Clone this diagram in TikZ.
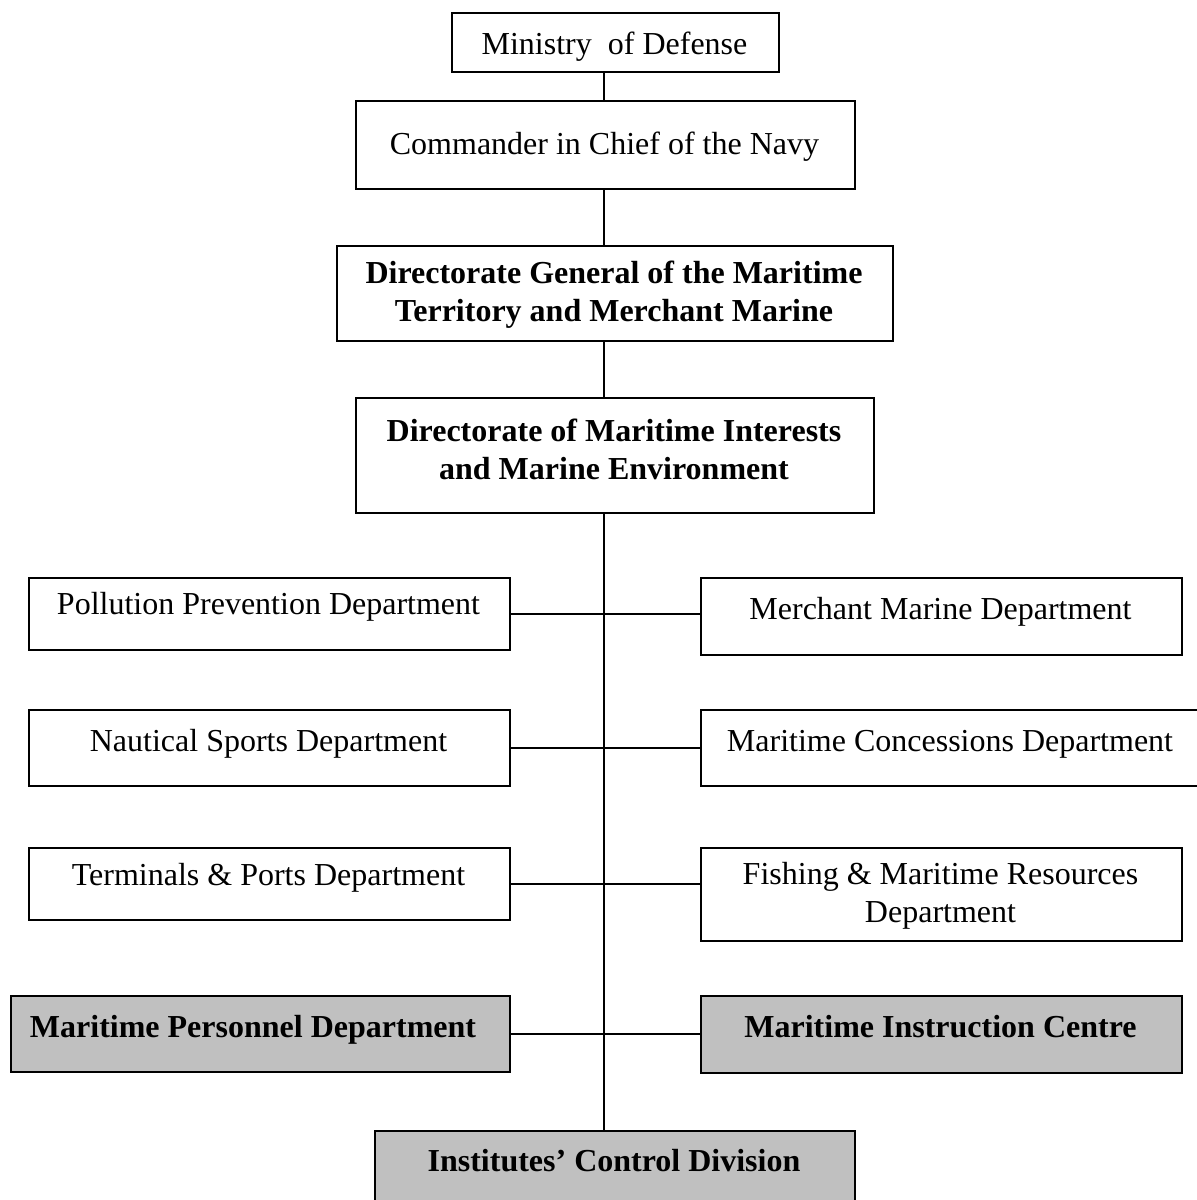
\documentclass[tikz,border=0pt]{standalone}
\usepackage{fontspec}
\setmainfont{Liberation Serif}
\definecolor{boxgray}{HTML}{C0C0C0}
\begin{document}
\begin{tikzpicture}[x=1pt,y=-1pt,
  box/.style={draw, line width=2pt, anchor=north west, inner sep=0pt},
  shaded/.style={box, fill=boxgray},
  lbl/.style={font=\fontsize{32}{38}\selectfont, align=center, inner sep=0pt, anchor=base},
  blbl/.style={lbl, font=\fontsize{32}{38}\selectfont\bfseries},
  link/.style={line width=2pt}]
  \useasboundingbox (0,0) rectangle (1197,1200);
  \clip (0,0) rectangle (1197,1200);

  % spine position
  \coordinate (spine) at (604,0);

  % top chain
  \node[box, minimum width=327pt, minimum height=59pt] (mod) at (451,12) {};
  \node[lbl] (modt) at (614.5,54) {Ministry\ \ of Defense};

  \node[box, minimum width=499pt, minimum height=88pt] (cmd) at (355,100) {};
  \node[lbl] (cmdt) at (604.5,154) {Commander in Chief of the Navy};

  \node[box, minimum width=556pt, minimum height=95pt] (dg) at (336,245) {};
  \node[blbl, anchor=center] (dgt) at (614,295) {Directorate General of the Maritime\\Territory and Merchant Marine};

  \node[box, minimum width=518pt, minimum height=115pt] (dmi) at (355,397) {};
  \node[blbl, anchor=center] (dmit) at (614,449) {Directorate of Maritime Interests\\and Marine Environment};

  % left column
  \node[box, minimum width=481pt, minimum height=72pt] (pp) at (28,577) {};
  \node[lbl] (ppt) at (268.5,614) {Pollution Prevention Department};

  \node[box, minimum width=481pt, minimum height=76pt] (ns) at (28,709) {};
  \node[lbl] (nst) at (268.5,751) {Nautical Sports Department};

  \node[box, minimum width=481pt, minimum height=72pt] (tp) at (28,847) {};
  \node[lbl] (tpt) at (268.5,885) {Terminals \& Ports Department};

  \node[shaded, minimum width=499pt, minimum height=76pt] (mp) at (10,995) {};
  \node[blbl] (mpt) at (253,1037) {Maritime Personnel Department};

  % right column
  \node[box, minimum width=481pt, minimum height=77pt] (mm) at (700,577) {};
  \node[lbl] (mmt) at (940.5,619) {Merchant Marine Department};

  \node[box, minimum width=502pt, minimum height=76pt] (mc) at (700,709) {};
  \node[lbl] (mct) at (950,751) {Maritime Concessions Department};

  \node[box, minimum width=481pt, minimum height=93pt] (fm) at (700,847) {};
  \node[lbl, anchor=center] (fmt) at (940.5,895.5) {Fishing \& Maritime Resources\\Department};

  \node[shaded, minimum width=481pt, minimum height=77pt] (mi) at (700,995) {};
  \node[blbl] (mit) at (940.5,1037) {Maritime Instruction Centre};

  % bottom
  \node[shaded, minimum width=480pt, minimum height=90pt] (icd) at (374,1130) {};
  \node[blbl] (icdt) at (614,1171) {Institutes’ Control Division};

  % vertical spine
  \draw[link] (mod.south -| spine) -- (cmd.north -| spine);
  \draw[link] (cmd.south -| spine) -- (dg.north -| spine);
  \draw[link] (dg.south -| spine) -- (dmi.north -| spine);
  \draw[link] (dmi.south -| spine) -- (icd.north -| spine);

  % horizontal branches
  \draw[link] (pp.east) -- (pp.east -| mm.west);
  \draw[link] (ns.east) -- (ns.east -| mc.west);
  \draw[link] (tp.east) -- (tp.east -| fm.west);
  \draw[link] (mp.east) -- (mp.east -| mi.west);
\end{tikzpicture}
\end{document}
